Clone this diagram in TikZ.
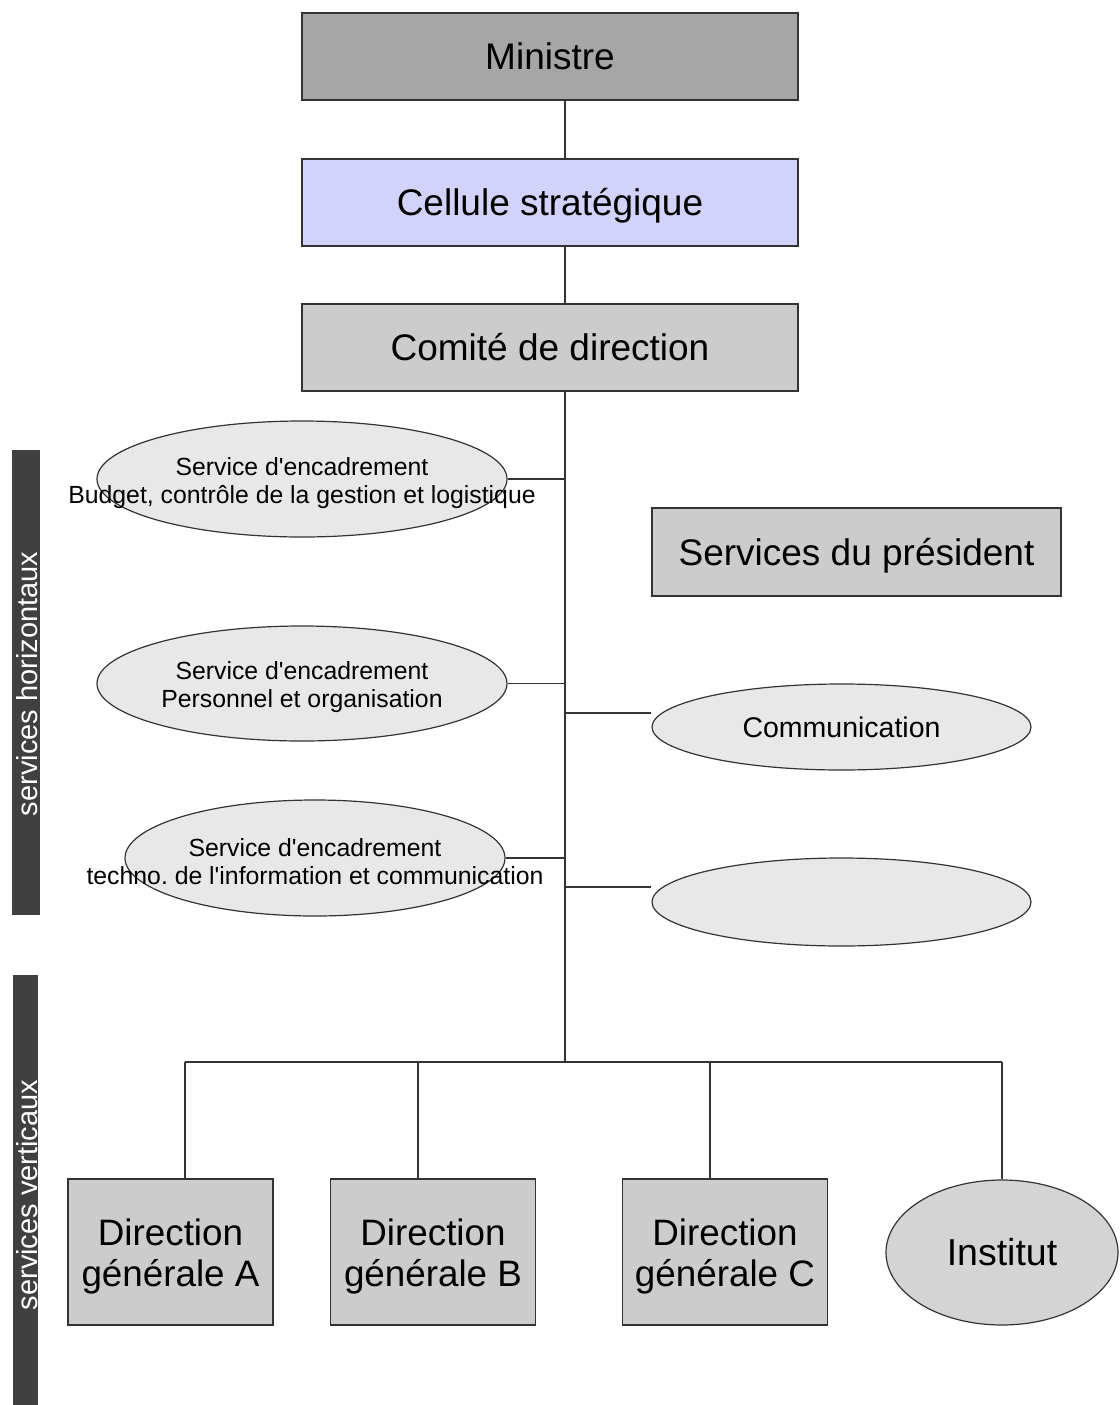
\documentclass[tikz,border=0pt]{standalone}
\usepackage{fontspec}
\setmainfont{Liberation Sans}
\usetikzlibrary{shapes.geometric}
\definecolor{darkbox}{HTML}{A6A6A6}
\definecolor{lilac}{HTML}{D2D2FA}
\definecolor{midgray}{HTML}{CCCCCC}
\definecolor{palegray}{HTML}{E8E8E8}
\definecolor{edge}{HTML}{333333}
\definecolor{band}{HTML}{404040}
\newcommand{\q}{\textquotesingle}
\begin{document}
\frenchspacing
\begin{tikzpicture}[x=1pt,y=-1pt,
  box/.style={draw=edge,line width=1.4pt,rectangle,inner sep=0pt,
    minimum width=#1,minimum height=87pt,text height=26.5pt,text depth=0pt,
    font=\fontsize{37}{40}\selectfont},
  box/.default=496pt,
  dgbox/.style={draw=edge,line width=1.4pt,rectangle,fill=midgray,inner sep=0pt,
    minimum width=205pt,minimum height=146pt},
  dgtxt/.style={align=center,yshift=-4pt,font=\fontsize{36.8}{41}\selectfont},
  oval/.style={draw=edge,line width=1.2pt,ellipse,fill=palegray,inner sep=0pt},
  smalltxt/.style={align=center,yshift=-4pt,font=\fontsize{24.8}{28}\selectfont},
  link/.style={draw=edge,line width=1.2pt},
  sideband/.style={fill=band,draw=none},
  bandtxt/.style={text=white,rotate=90,font=\fontsize{29}{32}\selectfont}]
  \useasboundingbox (0,0) rectangle (1119,1405);

  % top of the hierarchy
  \node[box,fill=darkbox] (min) at (550,56.5) {Ministre};
  \node[box,fill=lilac] (cel) at (550,202.5) {Cellule stratégique};
  \node[box,fill=midgray] (com) at (550,347.5) {Comité de direction};
  \node[box=409pt,fill=midgray,minimum height=88pt] (pres) at (856.5,552) {Services du président};

  % the trunk ends where the lower branches split
  \coordinate (hub) at (565,1062);
  \coordinate (ja) at (185,1062);
  \coordinate (jb) at (418,1062);
  \coordinate (jc) at (710,1062);
  \coordinate (jd) at (1002,1062);

  % support services on the left
  \node[oval,minimum width=410pt,minimum height=116pt,
    label={[smalltxt]center:Service d\q encadrement\\Budget, contrôle de la gestion et logistique}]
    (e1) at (302,479) {};
  \node[oval,minimum width=410pt,minimum height=115pt,
    label={[smalltxt]center:Service d\q encadrement\\Personnel et organisation}]
    (e2) at (302,683.5) {};
  \node[oval,minimum width=380pt,minimum height=116pt,
    label={[smalltxt]center:Service d\q encadrement\\techno. de l\q information et communication}]
    (e3) at (315,858) {};

  % services on the right
  \node[oval,minimum width=379pt,minimum height=86pt,text height=20.4pt,text depth=0pt,
    font=\fontsize{28.5}{32}\selectfont] (comm) at (841.5,727) {Communication};
  \node[oval,minimum width=379pt,minimum height=88pt] (blank) at (841.5,902) {};

  % directorates
  \node[dgbox,label={[dgtxt]center:Direction\\générale A}] (dga) at (170.5,1252) {};
  \node[dgbox,label={[dgtxt]center:Direction\\générale B}] (dgb) at (433,1252) {};
  \node[dgbox,label={[dgtxt]center:Direction\\générale C}] (dgc) at (725,1252) {};
  \node[oval,fill=midgray!85!white,minimum width=232pt,minimum height=145pt,
    text height=26.9pt,text depth=0pt,font=\fontsize{37.5}{40}\selectfont]
    (inst) at (1002,1252.5) {Institut};

  % connectors
  \draw[link] (min.south -| 565,0) -- (cel.north -| 565,0);
  \draw[link] (cel.south -| 565,0) -- (com.north -| 565,0);
  \draw[link] (com.south -| 565,0) -- (hub);
  \draw[link] (e1.east) -- (e1.east -| hub);
  \draw[link] (e2.east) -- (e2.east -| hub);
  \draw[link] (e3.east) -- (e3.east -| hub);
  \draw[link] (comm.west |- 0,713) -- (hub |- 0,713);
  \draw[link] (blank.west |- 0,887) -- (hub |- 0,887);
  \draw[link] (ja) -- (jd);
  \draw[link] (ja) -- (ja |- dga.north);
  \draw[link] (jb) -- (jb |- dgb.north);
  \draw[link] (jc) -- (jc |- dgc.north);
  \draw[link] (jd) -- (inst.north);

  % side bands
  \fill[sideband] (12,450) rectangle (40,915);
  \node[bandtxt] (hz) at (27,684) {services horizontaux};
  \fill[sideband] (13,975) rectangle (38,1405);
  \node[bandtxt] (vt) at (27,1195) {services verticaux};
\end{tikzpicture}
\end{document}
